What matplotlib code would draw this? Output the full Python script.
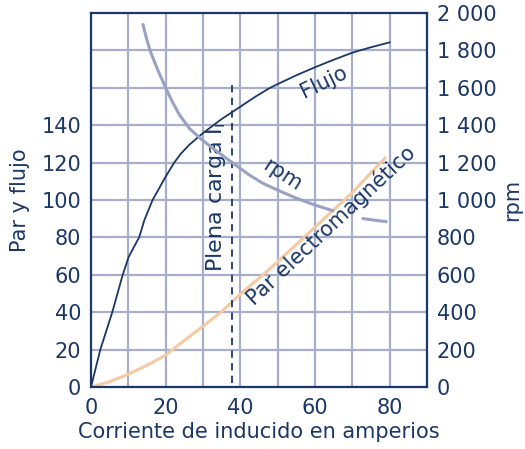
import numpy as np
import matplotlib
matplotlib.use("Agg")
from matplotlib import pyplot as plt

navy = "#1b3767"
grid_col = "#a6aecb"
rpm_col = "#9aa2c4"
par_col = "#f5c9a3"

# Flujo (left scale)
flujo_x = [0, 2.5, 5.7, 8.5, 10.1, 12.5, 12.9, 14.3, 16.5, 20, 22.3, 24, 26.3, 30, 35, 40, 44, 47.7, 50, 55, 60, 65, 70, 75, 80]
flujo_y = [0, 20, 40, 60, 69.6, 78.6, 80, 89.3, 100, 112.5, 120, 124.6, 129.5, 135.8, 143.3, 149.9, 155.2, 159.7, 162, 166.7, 171, 175, 178.8, 181.7, 184.3]

# Par electromagnetico (left scale)
par_x = [0, 5, 10, 15, 20, 26.3, 30, 35, 40, 46.4, 50, 55.7, 60, 70, 79]
par_y = [0, 2.8, 6.9, 11.6, 17.1, 26.9, 32.5, 40.3, 49.7, 60.5, 67, 77.5, 85.5, 104, 123]

# rpm (right scale), gap where the label crosses
rpm_x = [13.85, 14.8, 15.8, 17.8, 20, 21.8, 23.7, 26.5, 29.5, 32.6, 38, 42.4, 46, 50, 55, 60, 65.1, 68, 72.5, 76, 79.4]
rpm_y = [1945, 1870, 1800, 1700, 1600, 1525, 1455, 1380, 1326, 1277, 1198, 1134, 1090, 1053, 1010, 973, 941, np.nan, 902, 892, 884]

plena_x = 37.8

x_ticks = [0, 20, 40, 60, 80]
left_ticks = [0, 20, 40, 60, 80, 100, 120, 140]
right_ticks = [0, 200, 400, 600, 800, 1000, 1200, 1400, 1600, 1800, 2000]

plt.rcParams["font.family"] = ["DejaVu Sans"]

fig = plt.figure(figsize=(5.25, 4.49), dpi=100)
ax = fig.add_axes([0.1733, 0.138, 0.64, 0.833])
ax.set_xlim(0, 90)
ax.set_ylim(0, 200)

# grid
for gx in range(10, 90, 10):
    ax.axvline(gx, color=grid_col, lw=1.6, zorder=0)
for gy in range(20, 200, 20):
    ax.axhline(gy, color=grid_col, lw=1.6, zorder=0)

ax.plot(par_x, par_y, color=par_col, lw=2.2, zorder=2, solid_capstyle="butt")
ax.plot(flujo_x, flujo_y, color=navy, lw=1.3, zorder=3)
ax.plot([plena_x, plena_x], [2, 162.5], color=navy, lw=1.3, ls=(0, (4, 3)), zorder=3)

ax.set_xticks(x_ticks)
ax.set_yticks(left_ticks)
ax.tick_params(length=0, labelsize=15, colors=navy, pad=7)
ax.tick_params(axis="x", pad=8)
for s in ax.spines.values():
    s.set_color(navy)
    s.set_linewidth(1.6)

ax.set_xlabel("Corriente de inducido en amperios", fontsize=15, color=navy, labelpad=3)
ax.set_ylabel("Par y flujo", fontsize=15, color=navy, labelpad=8)

ax2 = ax.twinx()
ax2.set_ylim(0, 2000)
ax2.plot(rpm_x, rpm_y, color=rpm_col, lw=2.2, zorder=2, solid_capstyle="butt")
ax2.set_yticks(right_ticks)
ax2.set_yticklabels([f"{v:,}".replace(",", " ") for v in right_ticks])
ax2.tick_params(length=0, labelsize=15, colors=navy, pad=7)
for s in ax2.spines.values():
    s.set_visible(False)
ax2.set_ylabel("rpm", fontsize=15, color=navy, labelpad=4)

ax.text(62.4, 163.3, "Flujo", fontsize=15, color=navy, rotation=26, ha="center", va="center")
ax.text(51.3, 113.4, "rpm", fontsize=15, color=navy, rotation=-33, ha="center", va="center")
ax.text(33.5, 101.6, "Plena carga I$_\\mathregular{i}$", fontsize=16, color=navy,
        rotation=90, ha="center", va="center")
ax.text(64.2, 86.6, "Par electromagnético", fontsize=15, color=navy, rotation=43,
        ha="center", va="center")

fig.savefig("out.png", dpi=100)
